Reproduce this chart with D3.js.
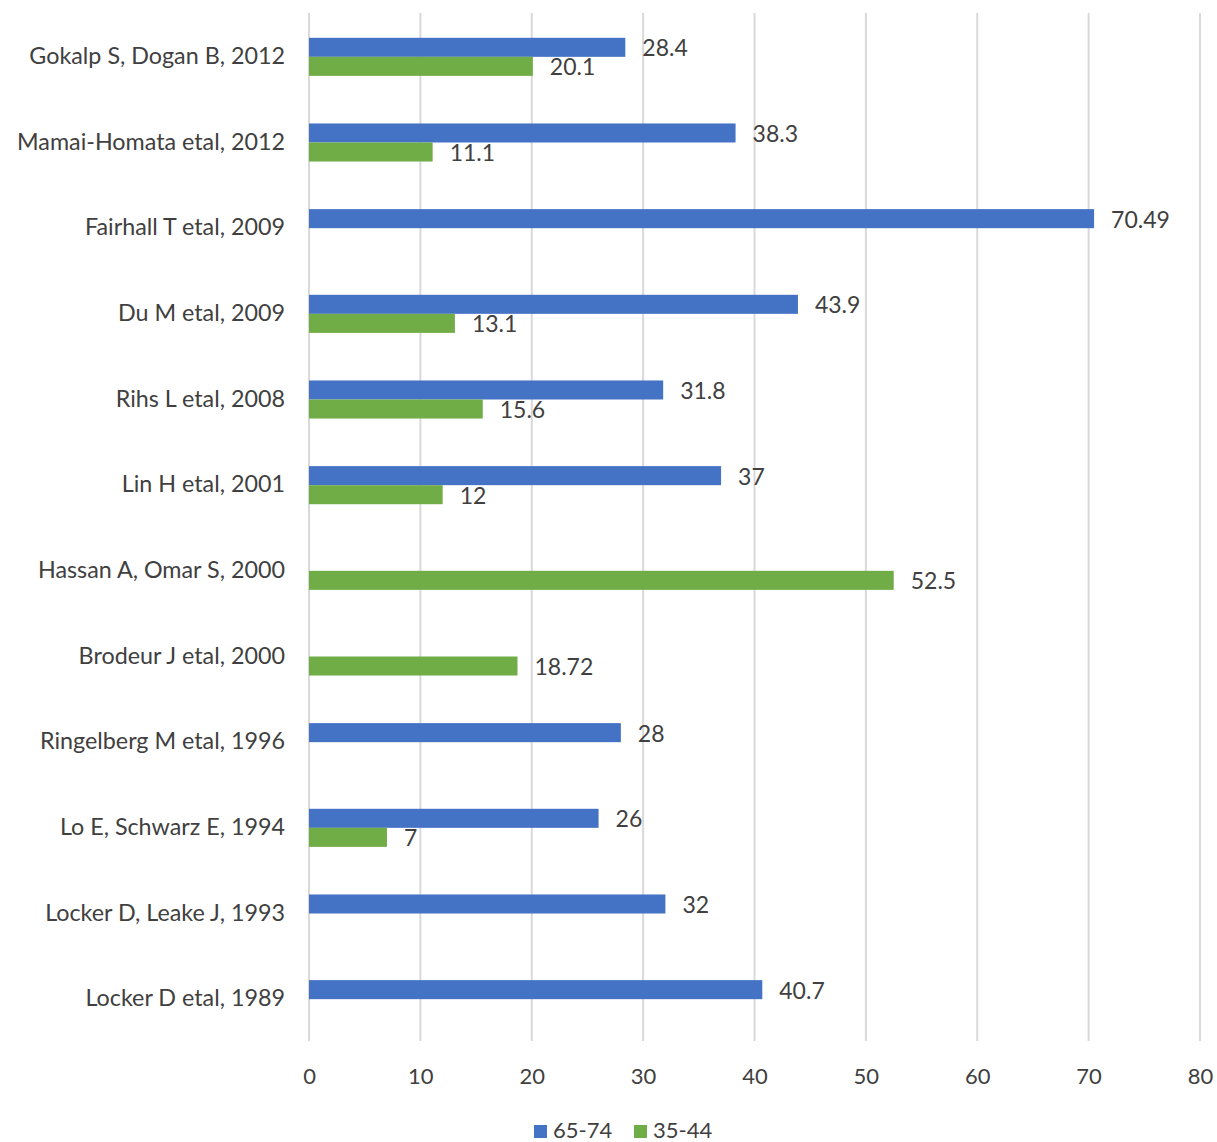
<!DOCTYPE html>
<html><head><meta charset="utf-8">
<script src="https://cdn.jsdelivr.net/npm/d3@7/dist/d3.min.js"></script>
<style>body{margin:0;background:#fff}</style>
</head><body>
<svg id="c" width="1217" height="1142"></svg>
<script>
const categories = ["Gokalp S, Dogan B, 2012","Mamai-Homata etal, 2012","Fairhall T etal, 2009","Du M etal, 2009","Rihs L etal, 2008","Lin H etal, 2001","Hassan A, Omar S, 2000","Brodeur J etal, 2000","Ringelberg M etal, 1996","Lo E, Schwarz E, 1994","Locker D, Leake J, 1993","Locker D etal, 1989"];
const series = ["65-74","35-44"];
const values6574 = [28.4,38.3,70.49,43.9,31.8,37,null,null,28,26,32,40.7];
const values3544 = [20.1,11.1,null,13.1,15.6,12,52.5,18.72,null,7,null,null];
const labels6574 = ["28.4","38.3","70.49","43.9","31.8","37","","","28","26","32","40.7"];
const labels3544 = ["20.1","11.1","","13.1","15.6","12","52.5","18.72","","7","",""];
const xTicks = [0,10,20,30,40,50,60,70,80];
const colors = ["#4472C4","#70AD47"];

const font = "Lato, 'Open Sans', sans-serif";
const svg = d3.select("#c");
const x = d3.scaleLinear().domain([0,80]).range([309,1200]);
const gap = 1.25/2.25;
const y = d3.scaleBand().domain(categories).range([13,1041]).paddingInner(gap).paddingOuter(gap/2);
const ys = d3.scaleBand().domain(series).range([0,y.bandwidth()]);

// gridlines
svg.append("g").selectAll("line").data(xTicks).join("line")
  .attr("x1",d=>x(d)).attr("x2",d=>x(d)).attr("y1",13).attr("y2",1041)
  .attr("stroke","#d9d9d9").attr("stroke-width",2);

// axis tick labels
const xAxis = d3.axisBottom(x).tickValues(xTicks).tickSize(0).tickPadding(0);
const gx = svg.append("g").attr("transform","translate(0,1084)").call(xAxis);
gx.select(".domain").remove();
gx.selectAll("text").attr("font-family",font).attr("font-size",22).attr("fill","#404040").attr("dy","0");

// category labels
const yAxis = d3.axisLeft(y).tickSize(0).tickPadding(0);
const gy = svg.append("g").attr("transform","translate(285,0)").call(yAxis);
gy.select(".domain").remove();
gy.selectAll("text").attr("font-family",font).attr("font-size",23.3).attr("fill","#404040").attr("dy","0.35em");

const data = [];
categories.forEach((c,i)=>{
  data.push({c, s:series[0], v:values6574[i], l:labels6574[i]});
  data.push({c, s:series[1], v:values3544[i], l:labels3544[i]});
});
const color = d3.scaleOrdinal().domain(series).range(colors);
const present = data.filter(d=>d.v!=null);

svg.append("g").selectAll("rect").data(present).join("rect")
  .attr("x",x(0)).attr("y",d=>y(d.c)+ys(d.s)+1)
  .attr("width",d=>x(d.v)-x(0)).attr("height",ys.bandwidth())
  .attr("fill",d=>color(d.s));

svg.append("g").selectAll("text").data(present).join("text")
  .attr("x",d=>x(d.v)+17).attr("y",d=>y(d.c)+ys(d.s)+ys.bandwidth()/2+2)
  .attr("dy","0.35em").attr("font-family",font).attr("font-size",23).attr("fill","#404040")
  .text(d=>d.l);

// legend
const lg = svg.append("g");
const legendX = [534,634];
series.forEach((s,i)=>{
  lg.append("rect").attr("x",legendX[i]).attr("y",1125).attr("width",13).attr("height",13).attr("fill",colors[i]);
  lg.append("text").attr("x",legendX[i]+19).attr("y",1130).attr("dy","0.35em")
    .attr("font-family",font).attr("font-size",22).attr("fill","#404040").text(s);
});
</script>
</body></html>
